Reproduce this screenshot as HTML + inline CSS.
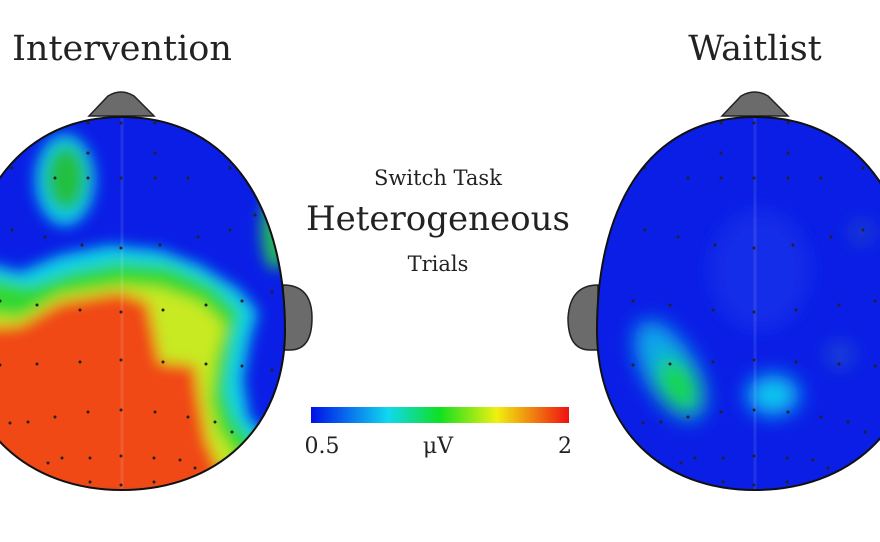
<!DOCTYPE html>
<html><head><meta charset="utf-8"><style>
html,body{margin:0;padding:0;background:#fff;}
svg{display:block;}
text{font-family:"DejaVu Serif","Liberation Serif",serif;fill:#222;}
</style></head><body>
<svg width="880" height="542" viewBox="0 0 880 542" xmlns="http://www.w3.org/2000/svg">
<defs>
<clipPath id="hL"><path d="M122,117 C235,117 285,215 285,330 C285,430 215,490 122,490 C29,490 -41,430 -41,330 C-41,215 9,117 122,117 Z"/></clipPath>
<clipPath id="hR"><path d="M755,117 C868,117 918,215 918,330 C918,430 848,490 755,490 C662,490 597,430 597,330 C597,215 642,117 755,117 Z"/></clipPath>
<filter id="b" x="-20%" y="-20%" width="140%" height="140%"><feGaussianBlur stdDeviation="7"/></filter>
<filter id="b2" x="-50%" y="-50%" width="200%" height="200%"><feGaussianBlur stdDeviation="10"/></filter>
<linearGradient id="jet" x1="0" x2="1" y1="0" y2="0">
<stop offset="0" stop-color="#0010e8"/><stop offset="0.3" stop-color="#10d8f0"/><stop offset="0.5" stop-color="#10e020"/><stop offset="0.72" stop-color="#f0f010"/><stop offset="1" stop-color="#f01010"/></linearGradient>
<g id="dots" fill="#222">
<circle cx="88" cy="123" r="1.5"/><circle cx="121" cy="123" r="1.5"/><circle cx="155" cy="123" r="1.5"/>
<circle cx="88" cy="153" r="1.5"/><circle cx="155" cy="153" r="1.5"/>
<circle cx="12" cy="168" r="1.5"/><circle cx="55" cy="178" r="1.5"/><circle cx="88" cy="178" r="1.5"/><circle cx="121" cy="178" r="1.5"/><circle cx="155" cy="178" r="1.5"/><circle cx="188" cy="178" r="1.5"/><circle cx="230" cy="168" r="1.5"/>
<circle cx="12" cy="230" r="1.5"/><circle cx="45" cy="237" r="1.5"/><circle cx="82" cy="245" r="1.5"/><circle cx="121" cy="248" r="1.5"/><circle cx="160" cy="245" r="1.5"/><circle cx="198" cy="237" r="1.5"/><circle cx="230" cy="230" r="1.5"/><circle cx="255" cy="215" r="1.5"/>
<circle cx="0" cy="301" r="1.5"/><circle cx="37" cy="305" r="1.5"/><circle cx="80" cy="310" r="1.5"/><circle cx="121" cy="312" r="1.5"/><circle cx="163" cy="310" r="1.5"/><circle cx="206" cy="305" r="1.5"/><circle cx="242" cy="301" r="1.5"/><circle cx="272" cy="292" r="1.5"/>
<circle cx="0" cy="365" r="1.5"/><circle cx="37" cy="364" r="1.5"/><circle cx="80" cy="362" r="1.5"/><circle cx="121" cy="360" r="1.5"/><circle cx="163" cy="362" r="1.5"/><circle cx="206" cy="364" r="1.5"/><circle cx="242" cy="366" r="1.5"/><circle cx="272" cy="370" r="1.5"/>
<circle cx="10" cy="423" r="1.5"/><circle cx="28" cy="422" r="1.5"/><circle cx="55" cy="417" r="1.5"/><circle cx="88" cy="412" r="1.5"/><circle cx="121" cy="410" r="1.5"/><circle cx="155" cy="412" r="1.5"/><circle cx="188" cy="417" r="1.5"/><circle cx="215" cy="422" r="1.5"/><circle cx="232" cy="432" r="1.5"/>
<circle cx="48" cy="463" r="1.5"/><circle cx="62" cy="458" r="1.5"/><circle cx="90" cy="458" r="1.5"/><circle cx="121" cy="456" r="1.5"/><circle cx="154" cy="458" r="1.5"/><circle cx="180" cy="460" r="1.5"/><circle cx="195" cy="468" r="1.5"/>
<circle cx="90" cy="482" r="1.5"/><circle cx="121" cy="485" r="1.5"/><circle cx="154" cy="482" r="1.5"/>
</g>
</defs>

<!-- Left head -->
<path d="M89,116 L108,96 Q121,88 134,96 L154,116 Z" fill="#6b6b6b" stroke="#222" stroke-width="1.5"/>
<path d="M283,285 Q312,285 312,318 Q312,350 290,350 L283,350 Z" fill="#6b6b6b" stroke="#222" stroke-width="1.5"/>
<g clip-path="url(#hL)">
<rect x="-50" y="100" width="350" height="400" fill="#0a1ee6"/>
<g filter="url(#b)">
<ellipse cx="65" cy="180" rx="30" ry="46" fill="#10c8e8"/>
<ellipse cx="66" cy="178" rx="20" ry="32" fill="#20c040"/>
<ellipse cx="275" cy="230" rx="14" ry="40" fill="#20b860"/>
<polygon points="-40,255 20,272 60,255 110,245 160,250 200,265 240,290 258,312 250,340 243,380 250,420 280,440 300,500 -40,500" fill="#10d0e8"/>
<polygon points="-40,272 30,286 70,272 120,262 170,266 212,285 240,312 232,345 225,390 235,420 262,450 300,500 -40,500" fill="#30d830"/>
<polygon points="-40,310 20,318 60,295 120,285 160,288 200,302 225,325 215,360 210,400 218,430 240,462 200,480 170,400 -40,400" fill="#c8ea20"/>
<polygon points="-40,328 20,325 60,302 120,292 148,302 155,335 160,362 195,365 200,400 207,440 220,470 230,500 -40,500" fill="#f04818"/>
</g>
<path d="M122,117 L122,490" stroke="#fff" stroke-opacity="0.1" stroke-width="3"/>
<use href="#dots"/>
</g>
<path d="M122,117 C235,117 285,215 285,330 C285,430 215,490 122,490 C29,490 -41,430 -41,330 C-41,215 9,117 122,117 Z" fill="none" stroke="#111" stroke-width="2"/>

<!-- Right head -->
<path d="M722,116 L741,96 Q755,88 768,96 L788,116 Z" fill="#6b6b6b" stroke="#222" stroke-width="1.5"/>
<path d="M598,285 Q570,285 568,318 Q568,350 590,350 L598,350 Z" fill="#6b6b6b" stroke="#222" stroke-width="1.5"/>
<g clip-path="url(#hR)">
<rect x="590" y="100" width="340" height="400" fill="#0a1ee6"/>
<g filter="url(#b2)">
<ellipse cx="760" cy="270" rx="50" ry="60" fill="#3050f0" opacity="0.3"/>
<ellipse cx="670" cy="370" rx="26" ry="55" transform="rotate(-30 670 370)" fill="#10a8e8"/>
<ellipse cx="678" cy="385" rx="18" ry="30" transform="rotate(-30 678 385)" fill="#18d840"/>
<ellipse cx="773" cy="395" rx="26" ry="20" fill="#10c8f0"/>
<ellipse cx="862" cy="232" rx="10" ry="10" fill="#2050c0"/>
<ellipse cx="840" cy="355" rx="12" ry="12" fill="#2050d0"/>
</g>
<path d="M755,117 L755,490" stroke="#fff" stroke-opacity="0.1" stroke-width="3"/>
<use href="#dots" transform="translate(633,0)"/>
</g>
<path d="M755,117 C868,117 918,215 918,330 C918,430 848,490 755,490 C662,490 597,430 597,330 C597,215 642,117 755,117 Z" fill="none" stroke="#111" stroke-width="2"/>

<!-- Titles -->
<text x="122" y="60" font-size="35" text-anchor="middle">Intervention</text>
<text x="755" y="60" font-size="35" text-anchor="middle">Waitlist</text>
<text x="438" y="185" font-size="21" text-anchor="middle">Switch Task</text>
<text x="438" y="230" font-size="34" text-anchor="middle">Heterogeneous</text>
<text x="438" y="271" font-size="21" text-anchor="middle">Trials</text>

<rect x="311" y="407" width="258" height="16" fill="url(#jet)"/>
<text x="322" y="453" font-size="22" text-anchor="middle">0.5</text>
<text x="438" y="453" font-size="22" text-anchor="middle">μV</text>
<text x="565" y="453" font-size="22" text-anchor="middle">2</text>
</svg>
</body></html>
